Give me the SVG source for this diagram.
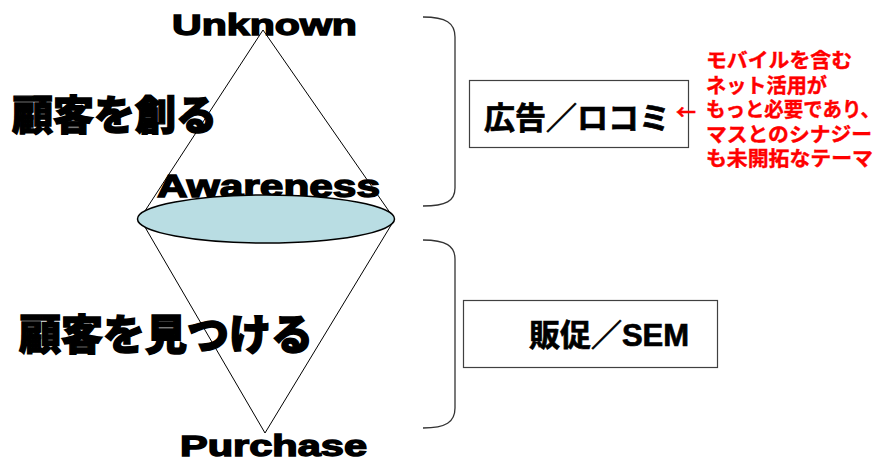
<svg xmlns="http://www.w3.org/2000/svg" width="885" height="468" viewBox="0 0 885 468">
<style>
.en{font-family:"Liberation Sans",Arial,"Noto Sans CJK JP",sans-serif;font-weight:bold;fill:#000;stroke:#000;stroke-width:1.4}
.jp{font-family:"Noto Sans CJK JP","Noto Sans CJK SC",sans-serif;font-weight:900;fill:#000;stroke:#000;stroke-width:1.4}
.box{fill:#fff;stroke:#404040;stroke-width:1.2}
.boxt{font-family:"Liberation Sans","Noto Sans CJK JP",sans-serif;font-weight:bold;font-size:31px;fill:#000;stroke:#000;stroke-width:0.7;text-anchor:middle}
.red{font-family:"Noto Sans CJK JP","Noto Sans CJK SC",sans-serif;font-weight:bold;font-size:20px;fill:#ff0000;stroke:#ff0000;stroke-width:0.4}
.ln{fill:none;stroke:#000;stroke-width:1}
.br{fill:none;stroke:#333;stroke-width:1.3}
</style>
<rect width="885" height="468" fill="#fff"/>
<g id="labels-left">
<text class="jp" x="12" y="130" font-size="41">顧客を創る</text>
<text class="jp" x="19" y="350" font-size="42">顧客を見つける</text>
</g>
<g id="unknown"><text class="en" x="172" y="35" font-size="30" textLength="185" lengthAdjust="spacingAndGlyphs">Unknown</text></g>
<g id="awareness-label"><text class="en" x="157" y="197" font-size="32" textLength="223" lengthAdjust="spacingAndGlyphs">Awareness</text></g>
<g id="purchase"><text class="en" x="180" y="456" font-size="30" textLength="187" lengthAdjust="spacingAndGlyphs">Purchase</text></g>
<g id="connectors">
<polyline class="ln" points="141,217 263,30 393,217"/>
<polyline class="ln" points="142,222 265,433 393,222"/>
<path class="br" d="M423,17 C446,17 455,23 455,37 L455,188 C455,201 446,206 423,206"/>
<path class="br" d="M423,240 C446,240 455,246 455,259 L455,408 C455,422 446,428 423,428"/>
</g>
<g id="awareness"><ellipse cx="266" cy="219" rx="128.5" ry="24" fill="#b9dde3" stroke="#000" stroke-width="1.5"/></g>
<g id="ad-box">
<rect class="box" x="469.5" y="80.5" width="219" height="67"/>
<text class="boxt" x="577" y="129">広告／ロコミ</text>
</g>
<g id="promo-box">
<rect class="box" x="463.5" y="300.5" width="254" height="67"/>
<text class="boxt" x="609" y="346">販促／<tspan>SEM</tspan></text>
</g>
<g id="note">
<text class="red" x="676" y="120">←</text>
<text class="red" x="706" y="68" textLength="146" lengthAdjust="spacingAndGlyphs">モバイルを含む</text>
<text class="red" x="706" y="92.5" textLength="121" lengthAdjust="spacingAndGlyphs">ネット活用が</text>
<text class="red" x="706" y="117" textLength="174" lengthAdjust="spacingAndGlyphs">もっと必要であり、</text>
<text class="red" x="706" y="141.5" textLength="166" lengthAdjust="spacingAndGlyphs">マスとのシナジー</text>
<text class="red" x="706" y="166" textLength="167" lengthAdjust="spacingAndGlyphs">も未開拓なテーマ</text>
</g>
</svg>
